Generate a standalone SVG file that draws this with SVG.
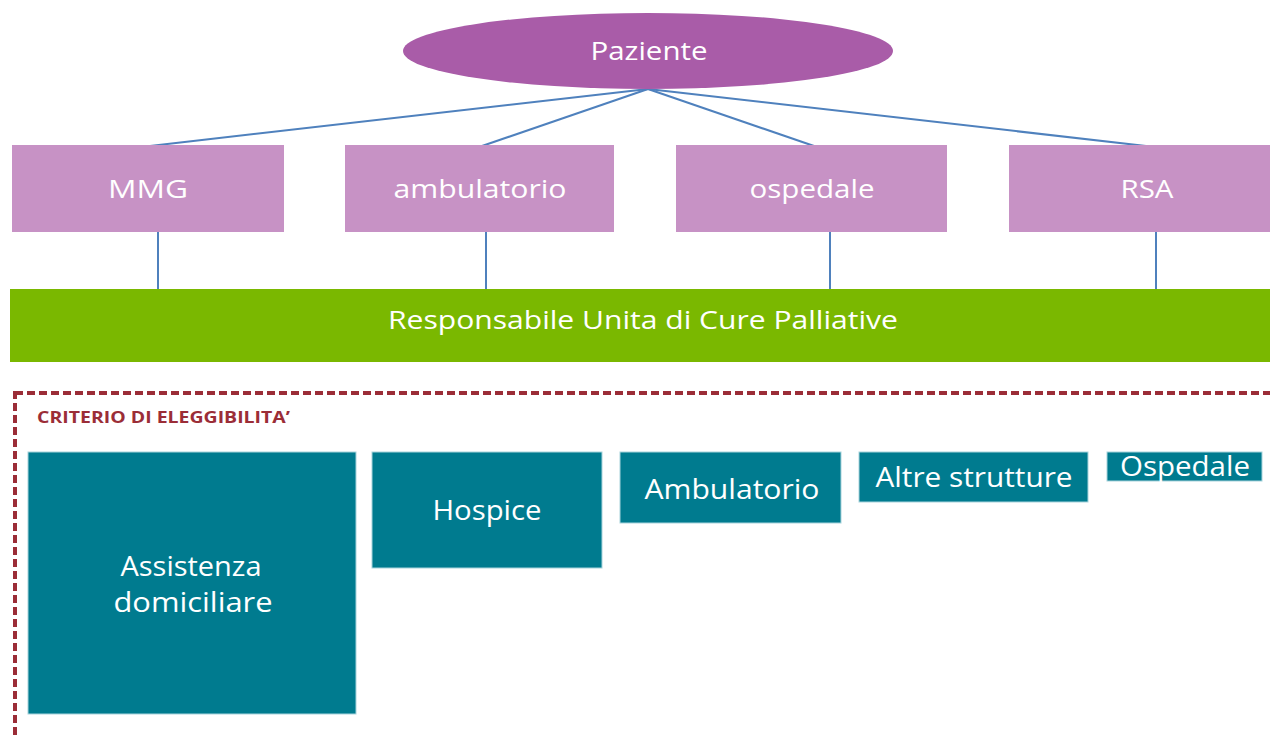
<svg xmlns="http://www.w3.org/2000/svg" width="1270" height="737" viewBox="0 0 1270 737">
<style>
.t{font-family:"Open Sans","Liberation Sans",sans-serif;fill:#fff;text-anchor:middle}
.pink{fill:#c792c5}
.teal{fill:#007b8f;stroke:#a8d4dc;stroke-width:1}
.con{stroke:#4f81bd;stroke-width:2;fill:none}
</style>
<rect width="1270" height="737" fill="#fff"/>
<g id="connectors">
<line class="con" x1="648" y1="89" x2="150" y2="146"/>
<line class="con" x1="648" y1="89" x2="482" y2="146"/>
<line class="con" x1="648" y1="89" x2="814" y2="146"/>
<line class="con" x1="648" y1="89" x2="1146" y2="146"/>
<line class="con" x1="158" y1="232" x2="158" y2="290"/>
<line class="con" x1="486" y1="232" x2="486" y2="290"/>
<line class="con" x1="830" y1="232" x2="830" y2="290"/>
<line class="con" x1="1156" y1="232" x2="1156" y2="290"/>
</g>
<g id="paziente">
<ellipse cx="648" cy="51" rx="245" ry="38" fill="#a95ca8"/>
<text class="t" x="649" y="60" font-size="26" textLength="117" lengthAdjust="spacingAndGlyphs">Paziente</text>
</g>
<g id="mmg">
<rect class="pink" x="12" y="145" width="272" height="87"/>
<text class="t" x="148" y="198" font-size="26" textLength="80" lengthAdjust="spacingAndGlyphs">MMG</text>
</g>
<g id="ambulatorio">
<rect class="pink" x="345" y="145" width="269" height="87"/>
<text class="t" x="480" y="198" font-size="26" textLength="173" lengthAdjust="spacingAndGlyphs">ambulatorio</text>
</g>
<g id="ospedale">
<rect class="pink" x="676" y="145" width="271" height="87"/>
<text class="t" x="812" y="198" font-size="26" textLength="125" lengthAdjust="spacingAndGlyphs">ospedale</text>
</g>
<g id="rsa">
<rect class="pink" x="1009" y="145" width="261" height="87"/>
<text class="t" x="1147" y="198" font-size="26" textLength="53" lengthAdjust="spacingAndGlyphs">RSA</text>
</g>
<g id="responsabile">
<rect x="10" y="289" width="1260" height="73" fill="#7ab800"/>
<text class="t" x="643" y="329" font-size="26" textLength="510" lengthAdjust="spacingAndGlyphs">Responsabile Unita di Cure Palliative</text>
</g>
<g id="criterio">
<rect x="15" y="393" width="1275" height="360" fill="none" stroke="#9b2d37" stroke-width="4" stroke-dasharray="8 4"/>
<text x="37" y="423" font-family="'Open Sans','Liberation Sans',sans-serif" font-weight="bold" font-size="16.5" fill="#9b2d37" textLength="253" lengthAdjust="spacingAndGlyphs">CRITERIO DI ELEGGIBILITA’</text>
</g>
<g id="assistenza">
<rect class="teal" x="28" y="452" width="328" height="262"/>
<text class="t" x="191" y="576" font-size="27" textLength="141" lengthAdjust="spacingAndGlyphs">Assistenza</text>
<text class="t" x="193" y="612" font-size="27" textLength="159" lengthAdjust="spacingAndGlyphs">domiciliare</text>
</g>
<g id="hospice">
<rect class="teal" x="372" y="452" width="230" height="116"/>
<text class="t" x="487" y="520" font-size="27" textLength="109" lengthAdjust="spacingAndGlyphs">Hospice</text>
</g>
<g id="ambulatorio2">
<rect class="teal" x="620" y="452" width="221" height="71"/>
<text class="t" x="732" y="499" font-size="27" textLength="175" lengthAdjust="spacingAndGlyphs">Ambulatorio</text>
</g>
<g id="altre">
<rect class="teal" x="859" y="452" width="229" height="50"/>
<text class="t" x="974" y="487" font-size="27" textLength="197" lengthAdjust="spacingAndGlyphs">Altre strutture</text>
</g>
<g id="ospedale2">
<rect class="teal" x="1107" y="452" width="155" height="29"/>
<text class="t" x="1185" y="476" font-size="27" textLength="130" lengthAdjust="spacingAndGlyphs">Ospedale</text>
</g>
</svg>
